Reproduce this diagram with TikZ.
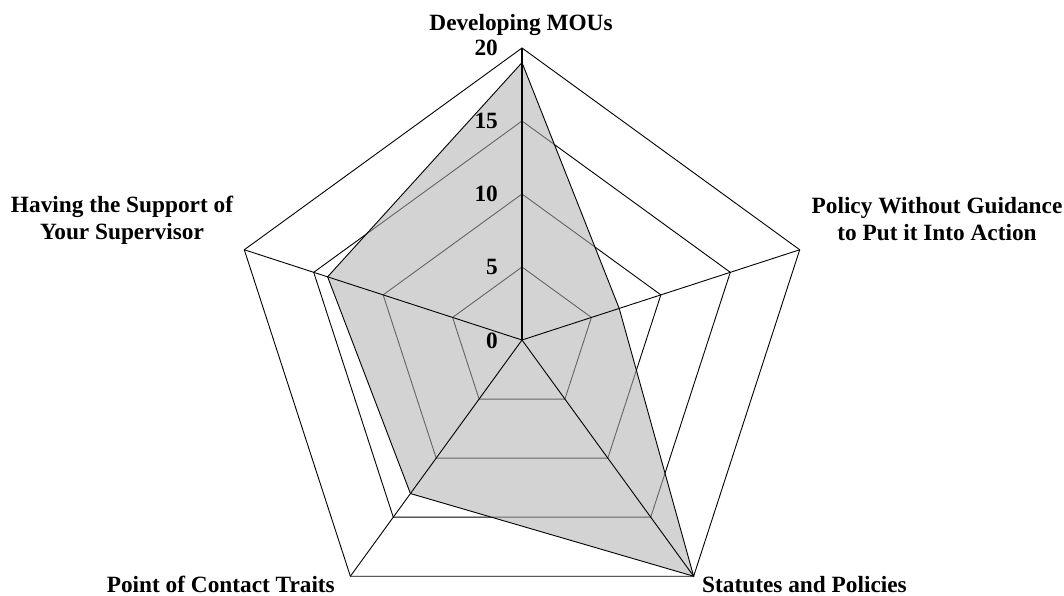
\documentclass[tikz,border=0pt]{standalone}
\usepackage{fontspec}
\setmainfont{Liberation Serif}
\usetikzlibrary{calc}
\definecolor{shade}{gray}{0.694}
\begin{document}
\begin{tikzpicture}[x=1pt,y=1pt,
  gridline/.style={line width=0.9pt, black},
  spoke/.style={line width=0.9pt, black},
  valaxis/.style={line width=2.3pt, black},
  datafill/.style={fill=shade, fill opacity=0.565},
  dataline/.style={line width=0.9pt, black, line join=miter},
  catlabel/.style={font=\bfseries\fontsize{23.3}{27}\selectfont, inner sep=0pt, align=center},
  ticklabel/.style={font=\bfseries\fontsize{23.3}{27}\selectfont, inner sep=0pt, anchor=east}]
\useasboundingbox (0,0) rectangle (1064,595);
\def\unit{14.6}
\coordinate (O) at (522,255);
% grid vertices for each level on the five axes
\foreach \i in {0,...,4} {
  \foreach \l in {5,10,15,20} {
    \coordinate (g\l-\i) at ($(O)+({90-72*\i}:{\l*\unit})$);
  }
}
% data vertices
\foreach \v [count=\i from 0] in {19,7,20,13,14} {
  \coordinate (d\i) at ($(O)+({90-72*\i}:{\v*\unit})$);
}
% grid pentagons
\foreach \l in {5,10,15,20}
  \draw[gridline] (g\l-0) -- (g\l-1) -- (g\l-2) -- (g\l-3) -- (g\l-4) -- cycle;
% translucent data area, then spokes and outline on top
\fill[datafill] (d0) -- (d1) -- (d2) -- (d3) -- (d4) -- cycle;
\foreach \i in {1,...,4}
  \draw[spoke] (O) -- (g20-\i);
\draw[dataline] (d0) -- (d1) -- (d2) -- (d3) -- (d4) -- cycle;
\draw[valaxis] (O) -- (g20-0);
% value axis labels
\node[ticklabel] (t0)  at (498,254) {0};
\node[ticklabel] (t5)  at (498,328) {5};
\node[ticklabel] (t10) at (498,401) {10};
\node[ticklabel] (t15) at (498,474) {15};
\node[ticklabel] (t20) at (498,547) {20};
% category labels
\node[catlabel, anchor=base] (cMOU) at (521,564) {Developing MOUs};
\node[catlabel, anchor=base] (cPolicy) at (937,354) {Policy Without Guidance\\to Put it Into Action};
\node[catlabel, anchor=base] (cSupport) at (122,355) {Having the Support of\\Your Supervisor};
\node[catlabel, anchor=base west] (cStatutes) at (702,3) {Statutes and Policies};
\node[catlabel, anchor=base east] (cContact) at (335,3) {Point of Contact Traits};
\end{tikzpicture}
\end{document}
